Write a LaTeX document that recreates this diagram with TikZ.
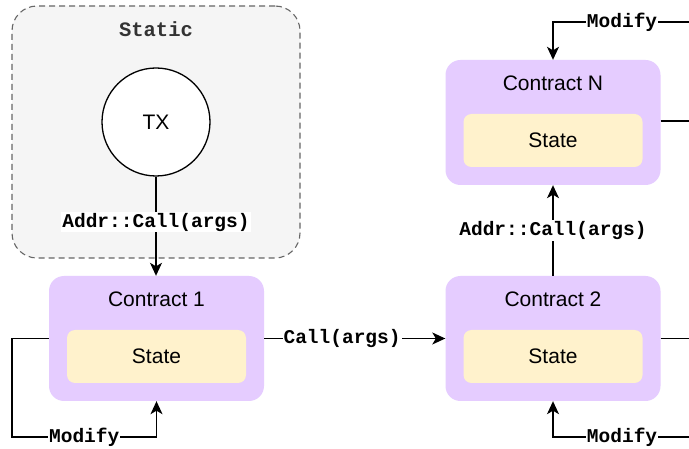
\documentclass[tikz,border=0pt]{standalone}
\usepackage{fontspec}
\setmainfont{Liberation Sans}
\setmonofont{Liberation Mono}
\usetikzlibrary{arrows.meta,calc}

\definecolor{staticfill}{HTML}{F5F5F5}
\definecolor{staticline}{HTML}{666666}
\definecolor{statictext}{HTML}{333333}
\definecolor{contractfill}{HTML}{E5CCFF}
\definecolor{statefill}{HTML}{FFF2CC}

\tikzset{
  zone/.style={draw=staticline, fill=staticfill, dashed, dash pattern=on 6pt off 4pt,
    line width=1.1pt, rounded corners=25pt, minimum width=288pt, minimum height=252pt, inner sep=0pt},
  zonetitle/.style={font=\ttfamily\bfseries\fontsize{20.5}{22}\selectfont, text=statictext},
  txnode/.style={circle, draw=black, fill=white, line width=1.3pt, minimum size=108pt,
    inner sep=0pt, font=\fontsize{21}{24}\selectfont},
  contract/.style={fill=contractfill, rounded corners=15pt, minimum width=215pt,
    minimum height=125pt, inner sep=0pt},
  ctitle/.style={font=\fontsize{21}{24}\selectfont},
  statebox/.style={fill=statefill, rounded corners=8pt, minimum width=179pt,
    minimum height=53pt, inner sep=0pt, font=\fontsize{21}{24}\selectfont},
  arr/.style={line width=1.3pt, -{Stealth[length=13pt,width=12pt,inset=3.5pt]}},
  lab/.style={fill=white, inner sep=1pt, font=\ttfamily\bfseries\fontsize{19.5}{22}\selectfont}
}

\begin{document}
\begin{tikzpicture}[x=1pt,y=-1pt]
  \useasboundingbox (0,0) rectangle (689,449);
  \fill[white] (0,0) rectangle (689,449);

  % static area with the transaction
  \node[zone] (zone) at (156,132) {};
  \node[zonetitle] (ztitle) at (156,29) {Static};
  \node[txnode] (tx) at (156,122) {TX};

  % contracts with their state
  \node[contract] (c1) at (156.5,338.5) {};
  \node[ctitle] (c1t) at (156.5,299) {Contract 1};
  \node[statebox] (s1) at (156.5,356.5) {State};

  \node[contract] (c2) at (553,338.5) {};
  \node[ctitle] (c2t) at (553,299) {Contract 2};
  \node[statebox] (s2) at (553,356.5) {State};

  \node[contract] (cN) at (553,122.5) {};
  \node[ctitle] (cNt) at (553,83) {Contract N};
  \node[statebox] (sN) at (553,140.5) {State};

  % calls between contracts
  \draw[arr] (tx.south) -- node[lab, pos=0.46] {Addr::Call(args)} (c1.north -| tx);
  \draw[arr] (c1.east) -- node[lab, pos=0.43] {Call(args)} (c2.west);
  \draw[arr] (c2.north) -- node[lab, pos=0.5] {Addr::Call(args)} (cN.south);

  % state modification loops
  \coordinate (m1a) at (12,338.5);
  \coordinate (m1b) at (12,437);
  \draw[arr] (c1.west) -- (m1a) -- (m1b) -- node[lab] {Modify} (c1.south |- m1b) -- (c1.south);

  \coordinate (m2a) at (700,338.5);
  \coordinate (m2b) at (700,437);
  \draw[arr] (c2.east) -- (m2a) -- (m2b) -- node[lab, pos=0.53] {Modify} (c2.south |- m2b) -- (c2.south);

  \coordinate (mNa) at (700,121);
  \coordinate (mNb) at (700,22);
  \draw[arr] (cN.east |- mNa) -- (mNa) -- (mNb) -- node[lab, pos=0.53] {Modify} (cN.north |- mNb) -- (cN.north);
\end{tikzpicture}
\end{document}
